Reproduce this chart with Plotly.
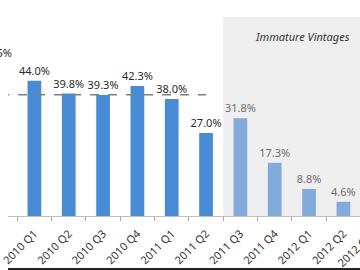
import plotly.graph_objects as go

categories = ["2009 Q4", "2010 Q1", "2010 Q2", "2010 Q3", "2010 Q4", "2011 Q1",
              "2011 Q2", "2011 Q3", "2011 Q4", "2012 Q1", "2012 Q2", "2012 Q3"]
values = [49.5, 44.0, 39.8, 39.3, 42.3, 38.0, 27.0, 31.8, 17.3, 8.8, 4.6, 1.5]
mature_flags = [True, True, True, True, True, True, True, False, False, False, False, False]
average_value = 39.4
shade_label = "Immature Vintages"

mature_color = "#4a8bd6"
immature_color = "#82abdc"
mature_text = "#2b2b2b"
immature_text = "#6e6e6e"

bar_colors = [mature_color if m else immature_color for m in mature_flags]
text_colors = [mature_text if m else immature_text for m in mature_flags]

mature_cats = [c for c, m in zip(categories, mature_flags) if m]
first_immature = mature_flags.index(False)

x_range = [0.231, 10.484]


def to_paper(idx):
    return (idx - x_range[0]) / (x_range[1] - x_range[0])


fig = go.Figure()

fig.add_trace(go.Bar(
    x=categories, y=values, width=0.4,
    marker=dict(color=bar_colors, line=dict(width=0)),
    texttemplate="%{y:.1f}%", textposition="outside", cliponaxis=False,
    constraintext="none",
    textfont=dict(family="Noto Sans", size=11, color=text_colors),
    showlegend=False,
))

fig.add_trace(go.Scatter(
    x=mature_cats, y=[average_value] * len(mature_cats), mode="lines",
    line=dict(color="#7f7f7f", width=1.5, dash="dash"),
    showlegend=False, hoverinfo="skip",
))

fig.add_shape(type="rect", xref="x", yref="paper",
              x0=first_immature - 0.5, x1=len(categories) - 0.5, y0=0, y1=1,
              fillcolor="#efefef", line=dict(width=0), layer="below")

fig.add_annotation(x=first_immature + 1.8, y=0.9, xref="x", yref="paper",
                   text="<i>" + shade_label + "</i>", showarrow=False,
                   yanchor="middle",
                   font=dict(family="Noto Sans", size=11, color="#333333"))

# labels of categories lying just outside the visible axis range
first_idx, last_idx = 0, len(categories) - 1
fig.add_annotation(x=to_paper(first_idx), y=values[first_idx], xref="paper", yref="y",
                   text=f"{values[first_idx]:.1f}%", showarrow=False,
                   xanchor="center", yanchor="bottom", yshift=2, xshift=-4,
                   font=dict(family="Noto Sans", size=11, color=text_colors[first_idx]))
fig.add_annotation(x=to_paper(last_idx), y=0, xref="paper", yref="paper",
                   text=categories[last_idx], showarrow=False, textangle=-45,
                   xanchor="right", yanchor="top", yshift=-10,
                   font=dict(family="Noto Sans", size=11, color="#333333"))

fig.add_shape(type="line", xref="paper", yref="paper", x0=0, x1=1,
              y0=-0.266, y1=-0.266, line=dict(color="#222222", width=2))

fig.update_layout(
    width=360, height=270,
    margin=dict(l=0, r=0, t=17, b=54),
    paper_bgcolor="white", plot_bgcolor="white",
    xaxis=dict(type="category", range=x_range, tickangle=-45,
               tickson="boundaries", ticks="outside", ticklen=4,
               ticklabelstandoff=6,
               tickcolor="#a6a6a6", showline=True, linecolor="#bfbfbf",
               linewidth=1, showgrid=False,
               tickfont=dict(family="Noto Sans", size=11, color="#333333")),
    yaxis=dict(range=[0, 64.7], visible=False, showgrid=False),
)

fig.write_html("out.html")
